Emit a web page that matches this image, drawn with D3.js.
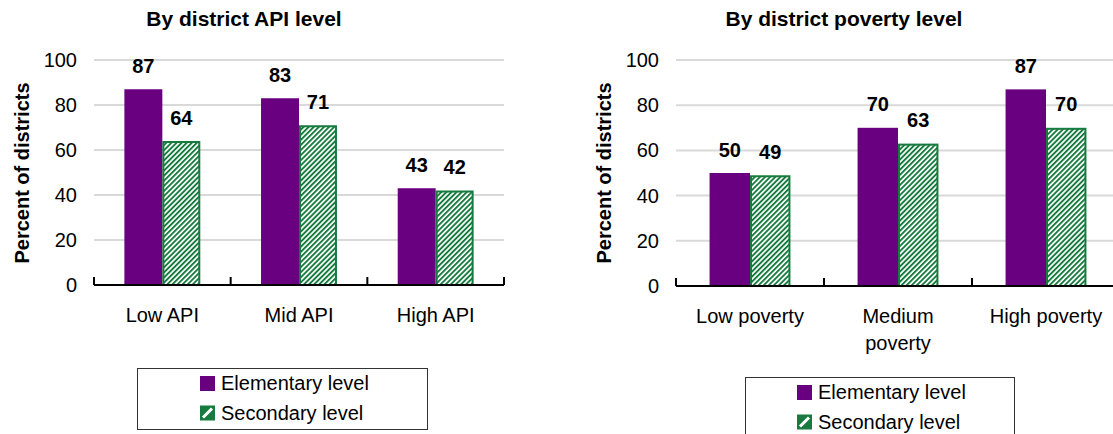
<!DOCTYPE html>
<html>
<head>
<meta charset="utf-8">
<script src="https://cdn.jsdelivr.net/npm/d3@7"></script>
<style>
  body { margin: 0; background: #fff; }
  svg { display: block; font-family: "Liberation Sans", Arial, sans-serif; }
</style>
</head>
<body>
<script>
// values
var seriesNames = ['Elementary level', 'Secondary level'];

var apiCategories = ['Low API', 'Mid API', 'High API'];
var apiElementary = [87, 83, 43];
var apiSecondary = [64, 71, 42];

var povertyCategories = ['Low poverty', 'Medium poverty', 'High poverty'];
var povertyElementary = [50, 70, 87];
var povertySecondary = [49, 63, 70];

var yTicks = [0, 20, 40, 60, 80, 100];

var purple = '#690080';
var green = '#177a3f';

var svg = d3.select('body').append('svg')
    .attr('width', 1113)
    .attr('height', 434);

var defs = svg.append('defs');
var hatch = defs.append('pattern')
    .attr('id', 'hatch')
    .attr('patternUnits', 'userSpaceOnUse')
    .attr('width', 3.6)
    .attr('height', 3.6)
    .attr('patternTransform', 'rotate(45)');
hatch.append('rect').attr('width', 3.6).attr('height', 3.6).attr('fill', '#fff');
hatch.append('rect').attr('width', 1.9).attr('height', 3.6).attr('fill', green);

function wrap(text, width) {
	text.each(function() {
		var t = d3.select(this);
		var words = t.text().split(/\s+/);
		var x = t.attr('x');
		var line = [];
		var tspan = t.text(null).append('tspan').attr('x', x);
		var lineNo = 0;
		words.forEach(function(w) {
			line.push(w);
			tspan.text(line.join(' '));
			if (tspan.node().getComputedTextLength() > width && line.length > 1) {
				line.pop();
				tspan.text(line.join(' '));
				line = [w];
				lineNo++;
				tspan = t.append('tspan').attr('x', x).attr('dy', 27).text(w);
			}
		});
	});
}

function drawPanel(p) {
	var rows = p.categories.map(function(c, i) {
		return {cat: c, values: [p.elementary[i], p.secondary[i]]};
	});

	var x0 = d3.scaleBand()
		.domain(p.categories)
		.range([p.left, p.right])
		.padding(0);

	var x1 = d3.scaleBand()
		.domain([0, 1])
		.range([0, x0.bandwidth()])
		.paddingInner(0)
		.paddingOuter(p.outer);

	var y = d3.scaleLinear()
		.domain([0, 100])
		.range([p.bottom, p.top]);

	var g = svg.append('g');

	// gridlines
	g.append('g')
		.selectAll('line')
		.data(yTicks.slice(1))
		.enter()
		.append('line')
		.attr('x1', p.left)
		.attr('x2', p.right)
		.attr('y1', function(d) { return y(d); })
		.attr('y2', function(d) { return y(d); })
		.style('stroke', '#d9d9d9')
		.style('stroke-width', 2);

	// y axis labels only
	var yAxis = g.append('g')
		.attr('transform', 'translate(' + p.left + ',0)')
		.call(d3.axisLeft(y).tickValues(yTicks).tickSize(0).tickPadding(17));
	yAxis.select('.domain').remove();
	yAxis.selectAll('text')
		.attr('font-size', 20)
		.attr('font-family', '"Liberation Sans", Arial, sans-serif')
		.attr('fill', '#000');

	// bars
	var groups = g.append('g')
		.selectAll('g')
		.data(rows)
		.enter()
		.append('g')
		.attr('transform', function(d) { return 'translate(' + x0(d.cat) + ',0)'; });

	groups.selectAll('rect')
		.data(function(d) { return d.values; })
		.enter()
		.append('rect')
		.attr('x', function(d, i) { return i === 0 ? x1(i) : x1(i) + 1; })
		.attr('width', function(d, i) { return i === 0 ? x1.bandwidth() : x1.bandwidth() - 2; })
		.attr('y', function(d, i) { return i === 0 ? y(d) : y(d) + 1; })
		.attr('height', function(d, i) { return i === 0 ? p.bottom - y(d) : p.bottom - y(d) - 1; })
		.attr('fill', function(d, i) { return i === 0 ? purple : 'url(#hatch)'; })
		.style('stroke', function(d, i) { return i === 0 ? 'none' : green; })
		.style('stroke-width', 2);

	groups.selectAll('text')
		.data(function(d) { return d.values; })
		.enter()
		.append('text')
		.attr('x', function(d, i) { return x1(i) + x1.bandwidth() / 2; })
		.attr('y', function(d) { return y(d) - 16.5; })
		.attr('text-anchor', 'middle')
		.attr('font-size', 20)
		.attr('font-weight', 'bold')
		.text(function(d) { return d; });

	// x axis line and boundary ticks
	var bounds = p.categories.map(function(c) { return x0(c); }).concat([x0.range()[1]]);
	g.append('line')
		.attr('x1', p.left)
		.attr('x2', p.right)
		.attr('y1', p.bottom)
		.attr('y2', p.bottom)
		.style('stroke', '#000')
		.style('stroke-width', 2);
	g.append('g')
		.selectAll('line')
		.data(bounds)
		.enter()
		.append('line')
		.attr('x1', function(d) { return d; })
		.attr('x2', function(d) { return d; })
		.attr('y1', p.bottom)
		.attr('y2', p.bottom - 8)
		.style('stroke', '#000')
		.style('stroke-width', 2);

	g.append('g')
		.selectAll('text')
		.data(p.categories)
		.enter()
		.append('text')
		.attr('x', function(d) { return x0(d) + x0.bandwidth() / 2; })
		.attr('y', p.bottom + 37)
		.attr('text-anchor', 'middle')
		.attr('font-size', 20)
		.text(function(d) { return d; })
		.call(wrap, x0.bandwidth() - 12);

	// titles
	g.append('text')
		.attr('x', p.titleX)
		.attr('y', 26)
		.attr('text-anchor', 'middle')
		.attr('font-size', 21)
		.attr('font-weight', 'bold')
		.text(p.title);

	g.append('text')
		.attr('transform', 'translate(' + (p.left - 65) + ',173) rotate(-90)')
		.attr('text-anchor', 'middle')
		.attr('font-size', 20)
		.attr('font-weight', 'bold')
		.text('Percent of districts');

	// legend
	var lg = g.append('g');
	lg.append('rect')
		.attr('x', p.legend.x)
		.attr('y', p.legend.y)
		.attr('width', p.legend.w)
		.attr('height', p.legend.h)
		.attr('fill', '#fff')
		.style('stroke', '#333')
		.style('stroke-width', 1);

	var items = lg.selectAll('g.item')
		.data(seriesNames)
		.enter()
		.append('g')
		.attr('class', 'item')
		.attr('transform', function(d, i) {
			return 'translate(' + p.legend.sx + ',' + (p.legend.sy + i * 29.5) + ')';
		});
	items.append('rect')
		.attr('width', 15)
		.attr('height', 15)
		.attr('fill', function(d, i) { return i === 0 ? purple : green; });
	items.filter(function(d, i) { return i === 1; })
		.append('path')
		.attr('d', 'M3,12 L12,3')
		.style('stroke', '#fff')
		.style('stroke-width', 3);
	items.append('text')
		.attr('x', 21)
		.attr('y', 14)
		.attr('font-size', 20)
		.text(function(d) { return d; });
}

drawPanel({
	categories: apiCategories,
	elementary: apiElementary,
	secondary: apiSecondary,
	title: 'By district API level',
	titleX: 244,
	left: 94, right: 504, top: 60, bottom: 285,
	outer: 0.8,
	legend: {x: 137.5, y: 368.5, w: 290, h: 61, sx: 200, sy: 376}
});

drawPanel({
	categories: povertyCategories,
	elementary: povertyElementary,
	secondary: povertySecondary,
	title: 'By district poverty level',
	titleX: 844,
	left: 676, right: 1120, top: 60, bottom: 286,
	outer: 0.83,
	legend: {x: 745.5, y: 377.5, w: 269, h: 70, sx: 797, sy: 385}
});
</script>
</body>
</html>
